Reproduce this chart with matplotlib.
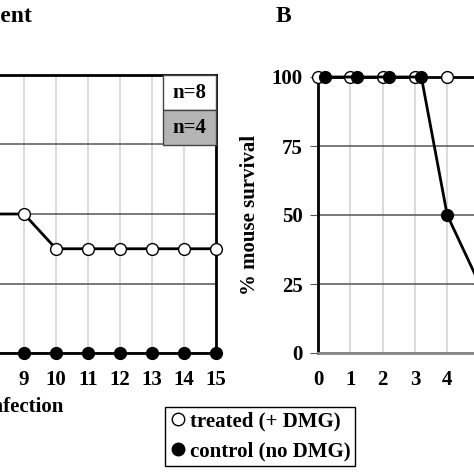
import matplotlib
matplotlib.use("Agg")
import matplotlib.pyplot as plt
from matplotlib.lines import Line2D
from matplotlib.patches import Rectangle

plt.rcParams['font.family'] = ['Liberation Serif', 'DejaVu Serif']
plt.rcParams['font.weight'] = 'bold'

# panel A (only the right part is visible)
days_a = [8, 9, 10, 11, 12, 13, 14, 15]
treated_a = [50, 50, 37.5, 37.5, 37.5, 37.5, 37.5, 37.5]
control_a = [0, 0, 0, 0, 0, 0, 0, 0]
n_labels = ["n=8", "n=4"]

# panel B (only the left part is visible)
days_b_treated = [0, 1, 2, 3, 4, 5, 6]
treated_b = [100, 100, 100, 100, 100, 100, 100]
days_b_control = [0.22, 1.2, 2.2, 3.2, 4, 5]
control_b = [100, 100, 100, 100, 50, 25]

x_ticks = list(range(0, 16))
y_ticks = [0, 25, 50, 75, 100]

W = 474.0
fig = plt.figure(figsize=(4.74, 4.74), dpi=100)


def px_axes(left, top, right, bottom):
    return fig.add_axes([left / W, 1 - bottom / W, (right - left) / W, (bottom - top) / W])


def style_axes(ax, first_label, last_label):
    ax.set_xlim(0, 15)
    ax.set_ylim(0, 100)
    ax.set_xticks(x_ticks)
    # only the labels inside the cropped picture are drawn
    ax.set_xticklabels([str(d) if first_label <= d <= last_label else '' for d in x_ticks])
    ax.set_yticks(y_ticks)
    ax.tick_params(axis='x', length=0, pad=12, labelsize=15)
    ax.tick_params(axis='y', length=6, color='#555555', pad=5, labelsize=15)
    ax.set_axisbelow(True)
    ax.xaxis.grid(True, color='#d4d4d4', lw=1.2)
    ax.yaxis.grid(True, color='#555555', lw=1.1)


line_kw = dict(color='black', lw=2.0, ms=8.5, mec='black', mew=1.0, clip_on=False, zorder=5)

# ---- panel A
ax1 = px_axes(-264, 75, 216, 353)
style_axes(ax1, 9, 15)
ax1.tick_params(axis='y', labelleft=False)
for s in ['left', 'bottom']:
    ax1.spines[s].set_visible(False)
for s in ['top', 'right']:
    ax1.spines[s].set_color('black')
    ax1.spines[s].set_linewidth(2.0)
ax1.plot(days_a, treated_a, marker='o', mfc='white', **line_kw)
ax1.plot(days_a, control_a, marker='o', mfc='black', **line_kw)

# n= boxes in upper right
box_fill = ['white', '#b4b4b4']
for i, lab in enumerate(n_labels):
    y0 = 100 - 12.6 * (i + 1)
    ax1.add_patch(Rectangle((13.34, y0), 15 - 13.34, 12.6, facecolor=box_fill[i],
                            edgecolor='#444444', lw=1.0, zorder=6, clip_on=False))
    ax1.text((13.34 + 15) / 2, y0 + 6.3, lab, ha='center', va='center', fontsize=15,
             fontweight='bold', zorder=7)

fig.text(32 / W, 1 - 17 / W, "DMG treatment", ha='right', va='center', fontsize=17, fontweight='bold')
fig.text(63 / W, 1 - 407 / W, "Days post infection", ha='right', va='center', fontsize=15, fontweight='bold')

# ---- panel B
ax2 = px_axes(318, 77, 318 + 15 * 32.3, 353)
style_axes(ax2, 0, 4)
ax2.spines['left'].set_color('black')
ax2.spines['left'].set_linewidth(2.0)
ax2.spines['bottom'].set_color('#888888')
ax2.spines['bottom'].set_linewidth(2.0)
ax2.spines['top'].set_visible(False)
ax2.spines['right'].set_visible(False)
ax2.plot(days_b_treated, treated_b, marker='o', mfc='white', **line_kw)
ax2.plot(days_b_control, control_b, marker='o', mfc='black', **line_kw)
ax2.set_ylabel("% mouse survival", fontsize=15, fontweight='bold', labelpad=8)

fig.text(283 / W, 1 - 17 / W, "B", ha='center', va='center', fontsize=17, fontweight='bold')

# legend
handles = [Line2D([], [], ls='none', marker='o', mfc='white', mec='black', ms=9, mew=1.0),
           Line2D([], [], ls='none', marker='o', mfc='black', mec='black', ms=9, mew=1.0)]
leg = fig.legend(handles, ["treated (+ DMG)", "control (no DMG)"], loc='upper left',
                 bbox_to_anchor=(165 / W, 1 - 407 / W), fancybox=False, edgecolor='black',
                 framealpha=1, fontsize=15, handlelength=0.8, handletextpad=0.2,
                 labelspacing=0.5, borderpad=0.2, borderaxespad=0)
leg.get_frame().set_linewidth(1.0)

fig.savefig("out.png", dpi=100)
